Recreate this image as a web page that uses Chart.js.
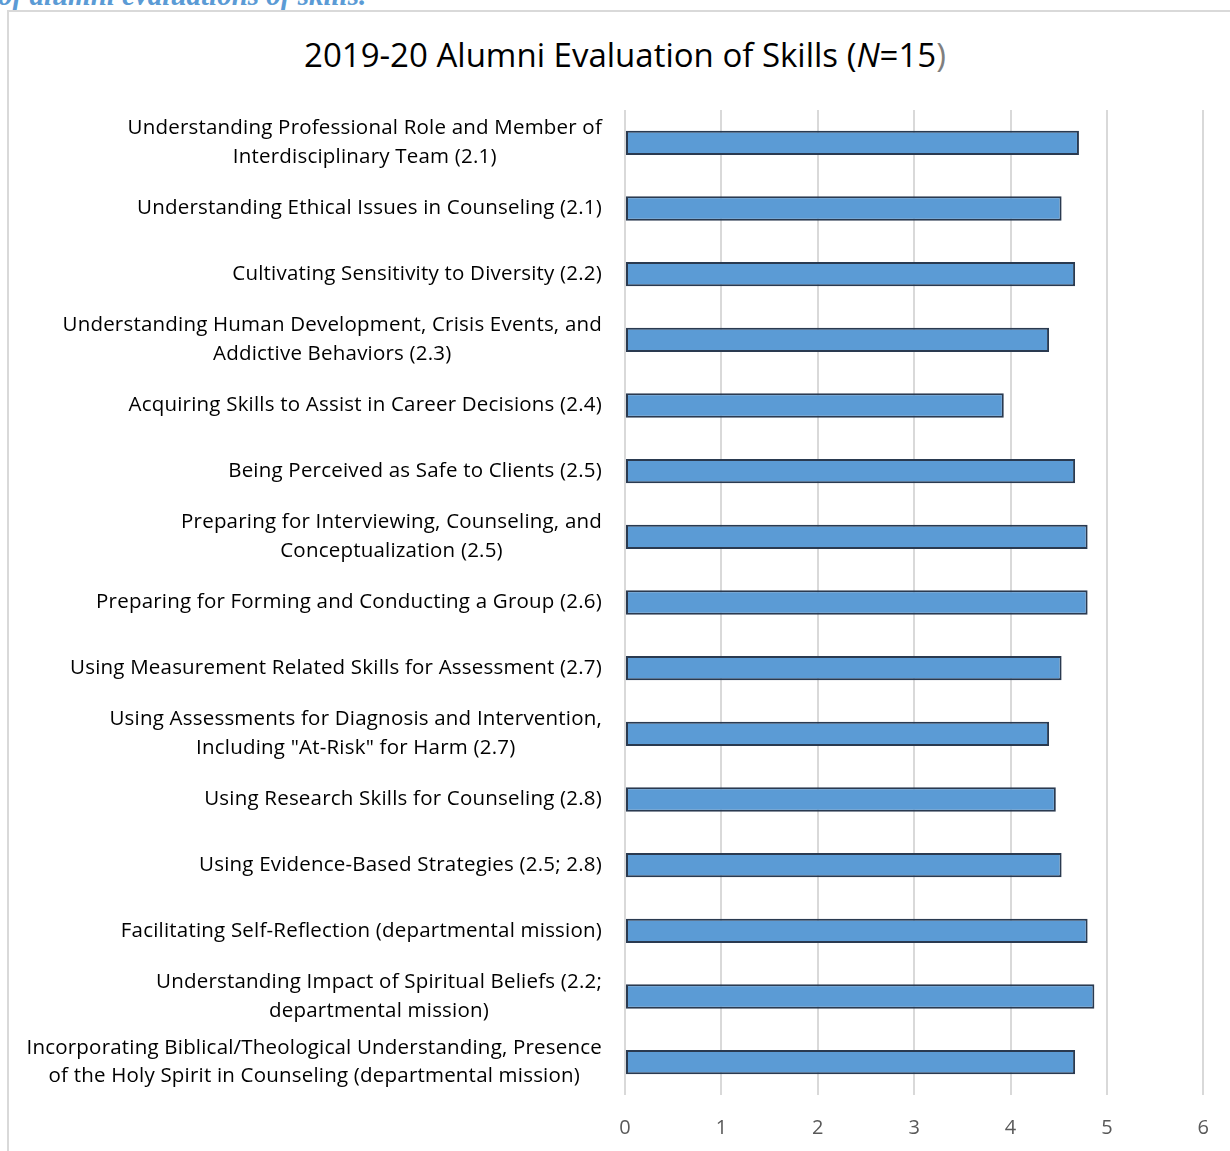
<!DOCTYPE html>
<html>
<head>
<meta charset="utf-8">
<script src="https://cdn.jsdelivr.net/npm/chart.js@4"></script>
<style>
  html, body { margin: 0; padding: 0; background: #fff; overflow: hidden; }
  body { width: 1230px; height: 1151px; position: relative; font-family: "Open Sans", sans-serif; }
  #caption {
    position: absolute; left: -2px; top: -21px;
    font-family: "Liberation Serif", serif; font-style: italic; font-weight: bold;
    font-size: 29px; color: #5b9bd5; white-space: nowrap;
  }
  #frame {
    position: absolute; left: 7px; top: 10px; width: 1300px; height: 1200px;
    border: 2px solid #d9d9d9; box-sizing: border-box;
  }
  #title {
    position: absolute; left: 0; width: 1250px; top: 33px; line-height: 44px;
    text-align: center; font-size: 33px; color: #000;
  }
  #chartWrap { position: absolute; left: 0; top: 0; width: 1230px; height: 1151px; }
</style>
</head>
<body>
<div id="caption">of alumni evaluations of skills.</div>
<div id="frame"></div>
<div id="title">2019-20 Alumni Evaluation of Skills (<i>N</i>=15<span style="color:#7f7f7f">)</span></div>
<div id="chartWrap"><canvas id="skillsChart" width="1230" height="1151"></canvas></div>
<script>
// label lines per skill, top to bottom
const skillLabels = [
  ["Understanding Professional Role and Member of", "Interdisciplinary Team (2.1)"],
  ["Understanding Ethical Issues in Counseling (2.1)"],
  ["Cultivating Sensitivity to Diversity (2.2)"],
  ["Understanding Human Development, Crisis Events, and", "Addictive Behaviors (2.3)"],
  ["Acquiring Skills to Assist in Career Decisions (2.4)"],
  ["Being Perceived as Safe to Clients (2.5)"],
  ["Preparing for Interviewing, Counseling, and", "Conceptualization (2.5)"],
  ["Preparing for Forming and Conducting a Group (2.6)"],
  ["Using Measurement Related Skills for Assessment (2.7)"],
  ["Using Assessments for Diagnosis and Intervention,", "Including \"At-Risk\" for Harm (2.7)"],
  ["Using Research Skills for Counseling (2.8)"],
  ["Using Evidence-Based Strategies (2.5; 2.8)"],
  ["Facilitating Self-Reflection (departmental mission)"],
  ["Understanding Impact of Spiritual Beliefs (2.2;", "departmental mission)"],
  ["Incorporating Biblical/Theological Understanding, Presence", "of the Holy Spirit in Counseling (departmental mission)"]
];

const meanScores = [4.71, 4.53, 4.67, 4.40, 3.93, 4.67, 4.80, 4.80, 4.53, 4.40, 4.47, 4.53, 4.80, 4.87, 4.67];

const xMin = 0;
const xMax = 6;
const xStep = 1;

const LABEL_FONT = "20.5px 'Open Sans'";
const LABEL_GAP = 23;
const LINE_H = 28.5;

// excel style category labels: block right aligned, lines centered within the block
const blockLabels = {
  id: "blockLabels",
  afterDraw(chart) {
    const ctx = chart.ctx;
    const yScale = chart.scales.y;
    const right = chart.chartArea.left - LABEL_GAP;
    ctx.save();
    ctx.font = LABEL_FONT;
    ctx.letterSpacing = "0.2px";
    ctx.fillStyle = "#000";
    ctx.textAlign = "center";
    ctx.textBaseline = "middle";
    skillLabels.forEach((lines, i) => {
      const y = yScale.getPixelForTick(i);
      const w = Math.max(...lines.map(l => ctx.measureText(l).width));
      const cx = right - w / 2;
      lines.forEach((l, j) => {
        ctx.fillText(l, cx, y + (j - (lines.length - 1) / 2) * LINE_H);
      });
    });
    ctx.restore();
  }
};

const ctx = document.getElementById("skillsChart").getContext("2d");
const chart = new Chart(ctx, {
  type: "bar",
  data: {
    labels: skillLabels,
    datasets: [{
      data: meanScores,
      backgroundColor: "#5b9bd5",
      borderColor: "#2a3a50",
      borderWidth: 2,
      borderSkipped: false,
      barPercentage: 0.37,
      categoryPercentage: 1
    }]
  },
  options: {
    indexAxis: "y",
    responsive: false,
    animation: false,
    layout: { padding: { top: 110, right: 23, left: 0, bottom: 0 } },
    plugins: { legend: { display: false }, tooltip: { enabled: false }, title: { display: false } },
    scales: {
      x: {
        min: xMin,
        max: xMax,
        border: { display: false },
        grid: { color: "#d9d9d9", lineWidth: 2, drawTicks: false },
        ticks: {
          stepSize: xStep,
          padding: 21,
          color: "#595959",
          font: { family: "Open Sans", size: 20 }
        },
        afterFit(scale) { scale.height = 56; }
      },
      y: {
        border: { display: false },
        grid: { display: false },
        ticks: { display: false },
        afterFit(scale) { scale.width = 625; }
      }
    }
  },
  plugins: [blockLabels]
});
</script>
</body>
</html>
